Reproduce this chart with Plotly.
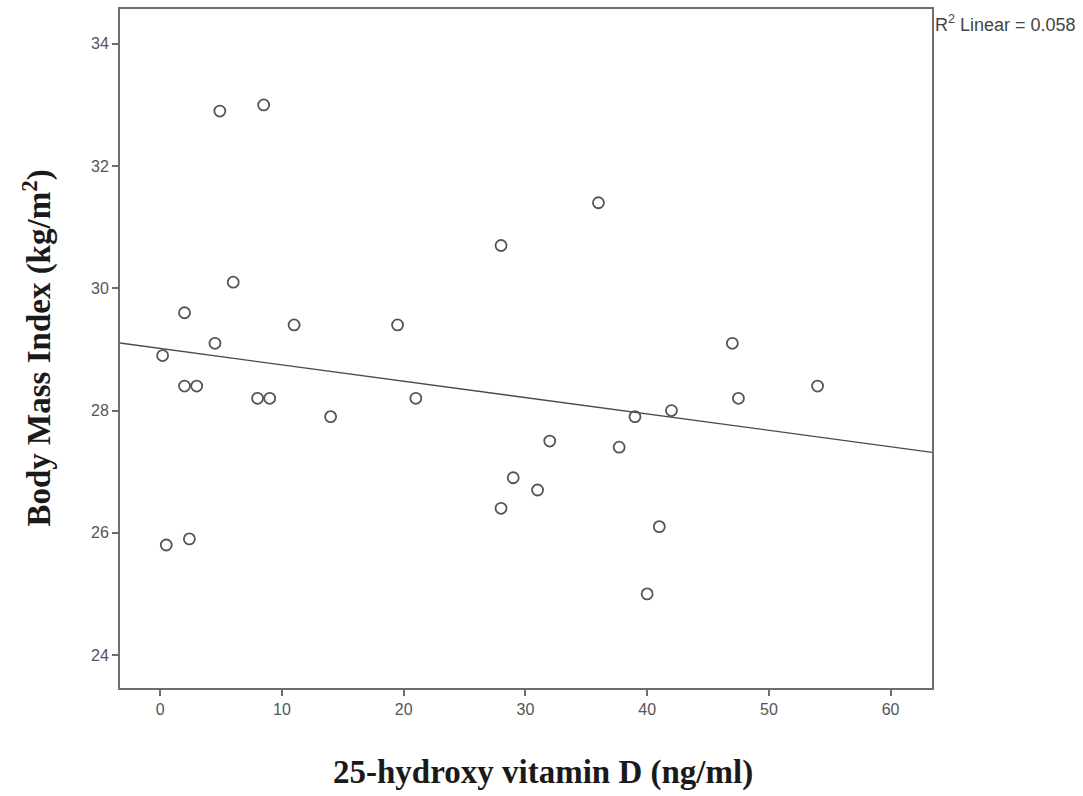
import numpy as np
import plotly.graph_objects as go

vitamin_d = [4.9, 8.5, 36.0, 28.0, 6.0, 2.0, 11.0, 19.5, 4.5, 47.0,
             0.2, 2.0, 3.0, 54.0, 8.0, 9.0, 21.0, 47.5, 42.0, 14.0,
             39.0, 32.0, 37.7, 29.0, 31.0, 28.0, 41.0, 0.5, 2.4, 40.0]
bmi = [32.9, 33.0, 31.4, 30.7, 30.1, 29.6, 29.4, 29.4, 29.1, 29.1,
       28.9, 28.4, 28.4, 28.4, 28.2, 28.2, 28.2, 28.2, 28.0, 27.9,
       27.9, 27.5, 27.4, 26.9, 26.7, 26.4, 26.1, 25.8, 25.9, 25.0]
x_ticks = [0, 10, 20, 30, 40, 50, 60]
y_ticks = [24, 26, 28, 30, 32, 34]
x_range = [-3.3, 63.4]
y_range = [23.46, 34.57]

slope, intercept = np.polyfit(vitamin_d, bmi, 1)
line_x = np.array(x_range)
line_y = intercept + slope * line_x

fig = go.Figure()
fig.add_trace(go.Scatter(x=line_x, y=line_y, mode="lines",
                         line=dict(color="#4a4a4a", width=1.3),
                         showlegend=False, hoverinfo="skip"))
fig.add_trace(go.Scatter(x=vitamin_d, y=bmi, mode="markers",
                         marker=dict(symbol="circle-open", size=11,
                                     color="#555555", line=dict(width=1.8)),
                         showlegend=False))

axis_common = dict(showgrid=False, zeroline=False, showline=True,
                   linecolor="#6e6e6e", linewidth=2, mirror=True,
                   ticks="outside", ticklen=6, tickwidth=2, tickcolor="#6e6e6e",
                   tickfont=dict(family="Liberation Sans, Arial", size=16, color="#555555"))

fig.update_xaxes(range=x_range, tickvals=x_ticks, **axis_common)
fig.update_yaxes(range=y_range, tickvals=y_ticks, **axis_common)

title_font = dict(family="Liberation Serif, Times New Roman", size=33, color="#1a1a1a")
fig.add_annotation(text="<b>25-hydroxy vitamin D (ng/ml)</b>",
                   xref="paper", yref="paper", x=0.521, y=-0.1248,
                   xanchor="center", yanchor="middle", showarrow=False,
                   font=title_font)
fig.add_annotation(text="<b>Body Mass Index (kg/m<sup>2</sup>)</b>",
                   xref="paper", yref="paper", x=-0.1022, y=0.5,
                   xanchor="center", yanchor="middle", showarrow=False,
                   textangle=-90, font=title_font)
fig.add_annotation(text="R<sup>2</sup> Linear = 0.058",
                   xref="paper", yref="paper", x=1.001, y=0.979,
                   xanchor="left", yanchor="middle", showarrow=False,
                   font=dict(family="Liberation Sans, Arial", size=18, color="#444444"))

fig.update_layout(width=1083, height=796,
                  margin=dict(l=120, r=151, t=7, b=108),
                  paper_bgcolor="white", plot_bgcolor="white")

fig.write_html("out.html")
